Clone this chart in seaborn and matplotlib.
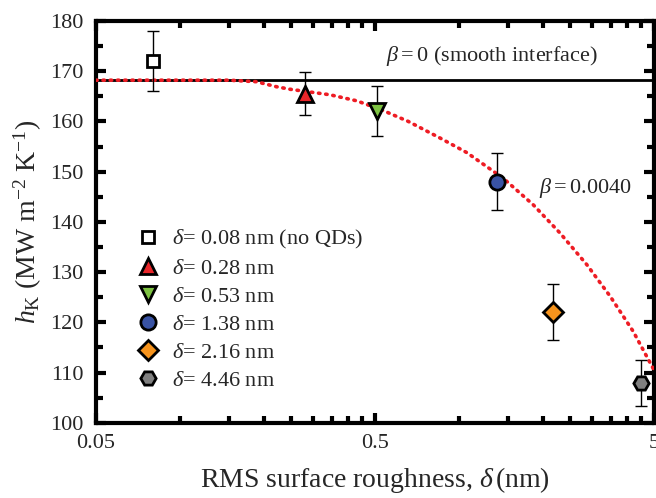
import numpy as np
import pandas as pd
import seaborn as sns
import matplotlib
matplotlib.use("Agg")
import matplotlib.pyplot as plt
from matplotlib.ticker import FixedLocator, NullFormatter

# measured points
delta_x = [0.08, 0.28, 0.51, 1.37, 2.17, 4.49]
h_k = [172.0, 165.5, 162.0, 148.0, 122.0, 108.0]
h_err = [6.0, 4.3, 5.0, 5.7, 5.6, 4.6]
labels = ["0.08 nm (no QDs)", "0.28 nm", "0.53 nm", "1.38 nm", "2.16 nm", "4.46 nm"]
markers = ["s", "^", "v", "o", "D", "H"]
colors = ["white", "#e8262a", "#7dc242", "#3953a4", "#f7941d", "#808080"]

# model curve, beta = 0.0040
curve_x = [0.05, 0.1, 0.15, 0.188, 0.222, 0.248, 0.345, 0.43, 0.528, 0.658, 0.855,
           1.066, 1.44, 1.846, 2.30, 2.87, 3.48, 4.21, 5.0]
curve_y = [168.2, 168.2, 168.2, 167.9, 166.9, 166.4, 165.3, 164.1, 162.3, 160.0, 156.7,
           153.8, 148.7, 143.4, 137.8, 131.5, 125.2, 118.2, 110.5]
smooth_h = 168.2

sns.set_theme(style="ticks")
plt.rcParams["font.family"] = ["Liberation Serif", "DejaVu Serif"]
plt.rcParams["mathtext.fontset"] = "custom"
plt.rcParams["mathtext.rm"] = "Liberation Serif"
plt.rcParams["mathtext.it"] = "Liberation Serif:italic"

fig, ax = plt.subplots(figsize=(6.56, 4.98), dpi=100)
fig.subplots_adjust(left=0.146, right=0.997, top=0.958, bottom=0.151)

ax.axhline(smooth_h, color="black", lw=2, zorder=2)
curve = pd.DataFrame({"x": curve_x, "y": curve_y})
sns.lineplot(data=curve, x="x", y="y", ax=ax, color="#ee1c24", lw=2.6,
             linestyle=(0, (0.4, 1.6)), dash_capstyle="round", zorder=3,
             estimator=None, sort=False)

for x, y, e, lab, m, c in zip(delta_x, h_k, h_err, labels, markers, colors):
    ax.errorbar(x, y, yerr=e, fmt="none", ecolor="black", elinewidth=1,
                capsize=4, capthick=1, zorder=4)
    ms = {"s": 9, "D": 10}.get(m, 11)
    ax.plot(x, y, marker=m, ls="none", ms=ms, mfc=c, mec="black", mew=2,
            label=r"$\delta$= " + lab, zorder=5)

ax.set_xscale("log")
ax.set_xlim(0.05, 5)
ax.set_ylim(100, 180)
ax.xaxis.set_major_locator(FixedLocator([0.05, 0.5, 5]))
ax.set_xticklabels(["0.05", "0.5", "5"])
ax.xaxis.set_minor_locator(FixedLocator([0.05 * k for k in range(2, 10)] + [0.5 * k for k in range(2, 10)]))
ax.xaxis.set_minor_formatter(NullFormatter())
ax.set_yticks(np.arange(100, 181, 10))
ax.yaxis.set_minor_locator(FixedLocator(np.arange(105, 180, 10)))

for s in ax.spines.values():
    s.set_linewidth(3)
    s.set_color("black")
ax.tick_params(which="both", direction="in", top=True, right=True, color="black",
               labelsize=16)
ax.tick_params(axis="y", pad=9)
ax.tick_params(axis="x", pad=8)
ax.tick_params(which="major", length=7, width=3)
ax.tick_params(which="minor", length=5, width=3)

ax.set_xlabel(r"RMS surface roughness, $\delta\,$(nm)", fontsize=20, labelpad=9)
ax.set_ylabel(r"$h_{\mathrm{K}}$ (MW m$^{\mathrm{-2}}$ K$^{\mathrm{-1}}$)", fontsize=20, labelpad=4)

ax.text(0.55, 170.6, r"$\beta = 0$ (smooth interface)", fontsize=16, ha="left", va="bottom")
ax.text(1.93, 144.3, r"$\beta = 0.0040$", fontsize=16, ha="left", va="bottom")

ax.legend(loc="upper left", bbox_to_anchor=(0.057, 0.506), frameon=False, fontsize=16,
          handlelength=1.0, handletextpad=0.6, labelspacing=0.33, borderaxespad=0)

fig.savefig("out.png", dpi=100)
